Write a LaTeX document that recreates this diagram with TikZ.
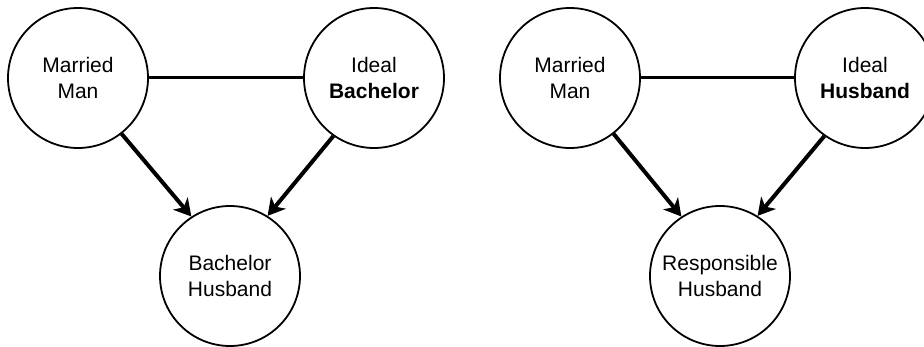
\documentclass[tikz,border=0pt]{standalone}
\usepackage{fontspec}
\setmainfont{Liberation Sans}
\usetikzlibrary{arrows.meta}
\begin{document}
\begin{tikzpicture}[x=1pt,y=-1pt,
  circ/.style={draw, circle, line width=1.8pt, minimum size=140pt, inner sep=0pt, align=center, font=\fontsize{21}{26}\selectfont},
  link/.style={line width=3pt},
  arr/.style={line width=4pt, -{Stealth[length=17pt,width=19pt,inset=5pt]}}]
\useasboundingbox (0,0) rectangle (924,347);
\clip (0,0) rectangle (924,347);
% left diagram
\node[circ] (mm1) at (78,78) {Married\\Man};
\node[circ] (ib) at (374,78) {Ideal\\\textbf{Bachelor}};
\node[circ] (bh) at (230,276) {Bachelor\\Husband};
\draw[link] (mm1.east) -- (ib.west);
\draw[arr] (mm1.-52) -- (bh.123);
\draw[arr] (ib.235) -- (bh.58);
% right diagram
\node[circ] (mm2) at (570,78) {Married\\Man};
\node[circ] (ih) at (865,78) {Ideal\\\textbf{Husband}};
\node[circ] (rh) at (720,276) {Responsible\\Husband};
\draw[link] (mm2.east) -- (ih.west);
\draw[arr] (mm2.-52) -- (rh.123);
\draw[arr] (ih.235) -- (rh.58);
\end{tikzpicture}
\end{document}
